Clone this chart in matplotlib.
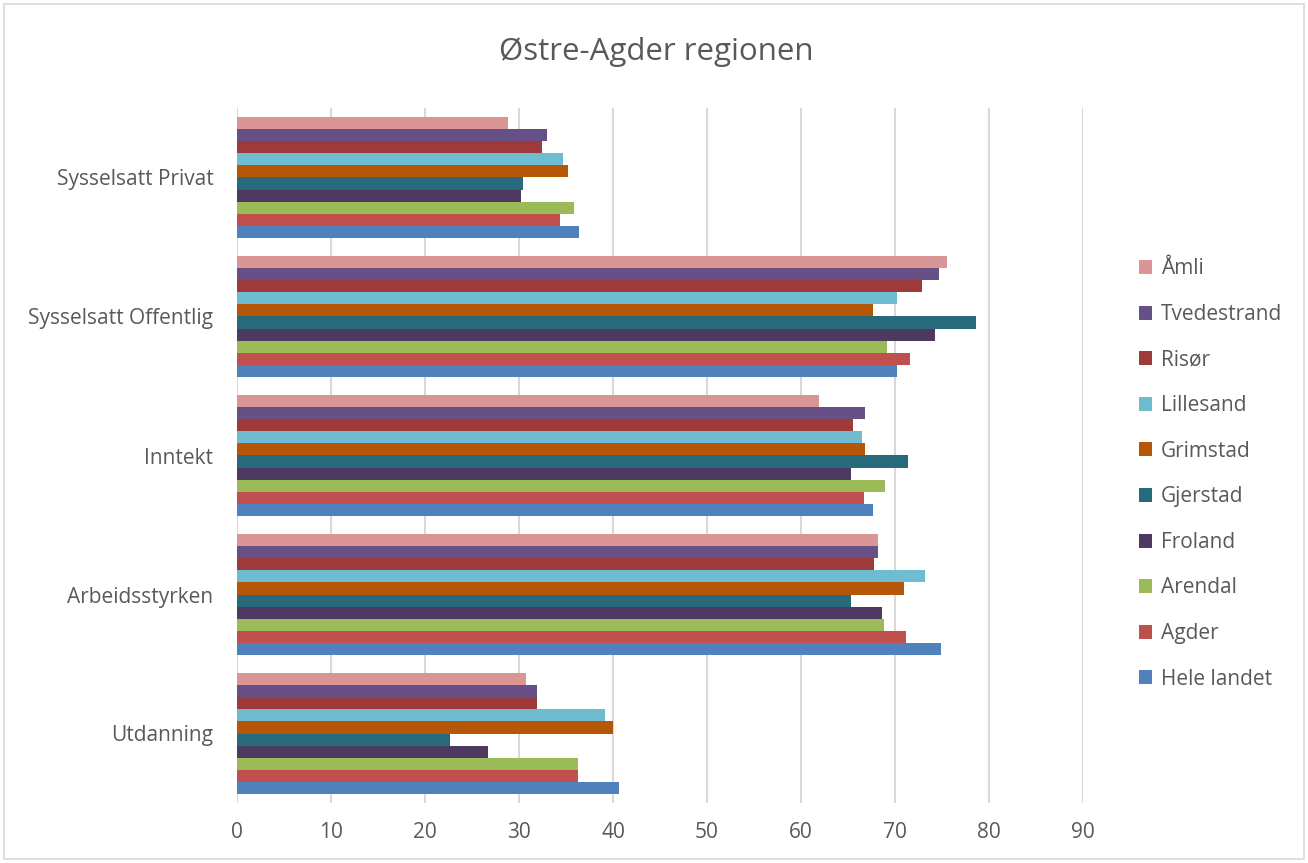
"""Grouped horizontal bar chart for Østre-Agder regionen."""

import matplotlib

matplotlib.use("Agg")

import matplotlib.pyplot as plt
import numpy as np
from matplotlib.patches import Rectangle

categories = ["Utdanning", "Arbeidsstyrken", "Inntekt", "Sysselsatt Offentlig", "Sysselsatt Privat"]

# series in drawing order (bottom bar of each group first)
series_names = ["Hele landet", "Agder", "Arendal", "Froland", "Gjerstad",
                "Grimstad", "Lillesand", "Risør", "Tvedestrand", "Åmli"]
hele_landet = [40.6, 74.9, 67.7, 70.2, 36.4]
agder = [36.3, 71.2, 66.7, 71.6, 34.4]
arendal = [36.3, 68.8, 68.9, 69.1, 35.9]
froland = [26.7, 68.6, 65.3, 74.3, 30.2]
gjerstad = [22.7, 65.3, 71.4, 78.6, 30.4]
grimstad = [40.0, 71.0, 66.8, 67.7, 35.2]
lillesand = [39.2, 73.2, 66.5, 70.2, 34.7]
risor = [31.9, 67.8, 65.5, 72.9, 32.4]
tvedestrand = [31.9, 68.2, 66.8, 74.7, 33.0]
amli = [30.7, 68.2, 61.9, 75.5, 28.8]
values = [hele_landet, agder, arendal, froland, gjerstad,
          grimstad, lillesand, risor, tvedestrand, amli]

colors = ["#4F81BD", "#C0504D", "#9BBB59", "#4E3A61", "#276A7C",
          "#B65708", "#6FBBCF", "#9E3B3A", "#675086", "#D99694"]

x_ticks = list(range(0, 100, 10))

TEXT = "#595959"
GRID = "#D9D9D9"

plt.rcParams["font.family"] = ["Open Sans", "DejaVu Sans"]

fig = plt.figure(figsize=(13.08, 8.63), dpi=100)
ax = fig.add_axes([237 / 1308, 1 - 803 / 863, (1083 - 237) / 1308, (803 - 108) / 863])

n = len(series_names)
group = 0.87
h = group / n
y = np.arange(len(categories))
for i, (name, vals, col) in enumerate(zip(series_names, values, colors)):
    offs = -group / 2 + h * (i + 0.5)
    ax.barh(y + offs, vals, height=h, color=col, label=name, zorder=3)

ax.set_xlim(0, 90)
ax.set_ylim(-0.5, len(categories) - 0.5)
ax.set_xticks(x_ticks)
ax.set_yticks(y)
ax.set_yticklabels(categories)
ax.xaxis.grid(True, color=GRID, linewidth=1.5, zorder=0)
for s in ax.spines.values():
    s.set_visible(False)
ax.tick_params(axis="both", length=0, colors=TEXT, labelsize=15)
ax.tick_params(axis="x", pad=14)
ax.tick_params(axis="y", pad=17)

fig.text(0.502, 1 - 52 / 863, "Østre-Agder regionen", ha="center", va="center",
         fontsize=22.5, color=TEXT)

handles, labels = ax.get_legend_handles_labels()
leg = fig.legend(handles[::-1], labels[::-1], loc="center left",
                 bbox_to_anchor=(1120 / 1308, 1 - 474 / 863), frameon=False,
                 fontsize=15, handlelength=0.65, handleheight=0.65,
                 handletextpad=0.4, labelspacing=1.18)
for t in leg.get_texts():
    t.set_color(TEXT)

fig.patches.append(Rectangle((4 / 1308, 4 / 863), 1 - 8 / 1308, 1 - 8 / 863,
                             transform=fig.transFigure, fill=False,
                             edgecolor=GRID, linewidth=1.2))

fig.savefig("out.png")
plt.close(fig)
print("Saved out.png")
